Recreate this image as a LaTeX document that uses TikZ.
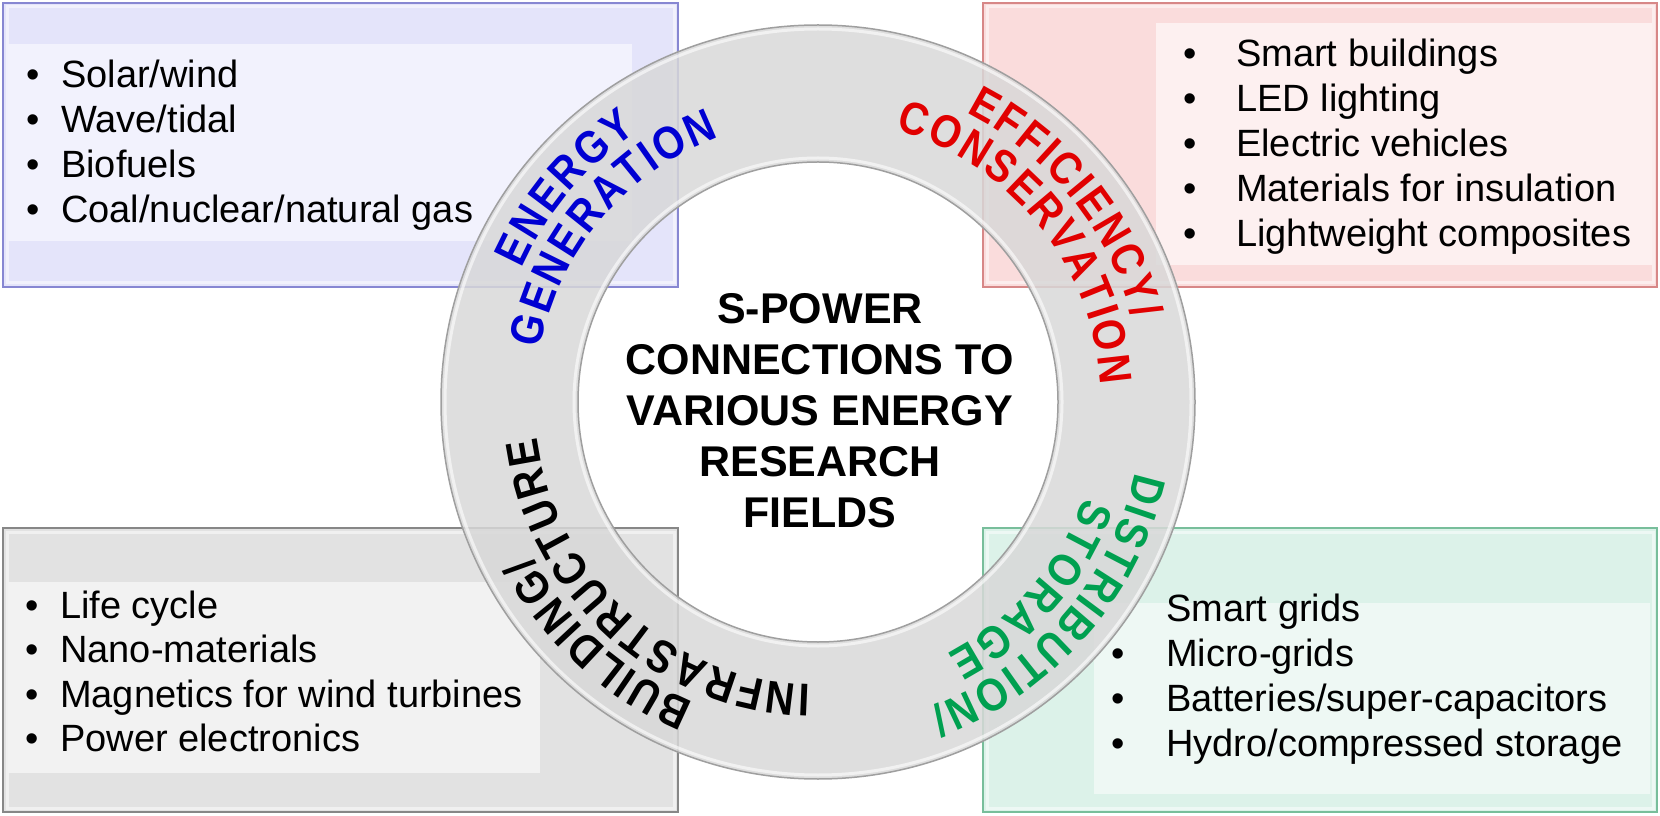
\documentclass[tikz,border=0pt]{standalone}
\usepackage{fontspec}
\setmainfont{Liberation Sans}
\newfontfamily\ringfont[FakeStretch=0.87]{Liberation Sans Bold}
\usetikzlibrary{decorations.text}
\definecolor{genblue}{RGB}{0,0,210}
\definecolor{effred}{RGB}{225,0,0}
\definecolor{distgreen}{RGB}{0,160,80}
\definecolor{genfill}{RGB}{228,228,250}
\definecolor{genpanel}{RGB}{242,242,253}
\definecolor{genedge}{RGB}{135,135,210}
\definecolor{efffill}{RGB}{250,220,220}
\definecolor{effpanel}{RGB}{253,240,240}
\definecolor{effedge}{RGB}{215,135,135}
\definecolor{bldfill}{RGB}{226,226,226}
\definecolor{bldpanel}{RGB}{242,242,242}
\definecolor{bldedge}{RGB}{135,135,135}
\definecolor{distfill}{RGB}{220,242,233}
\definecolor{distpanel}{RGB}{238,248,244}
\definecolor{distedge}{RGB}{120,190,155}
\definecolor{ringgray}{RGB}{216,216,216}
\tikzset{
	box/.style = {line width=2.5pt},
	bevel/.style = {draw=white, line width=3pt, opacity=0.5},
	listitem/.style = {anchor=base west, inner sep=0pt, font=\fontsize{38}{45}\selectfont},
	dot/.style = {anchor=base, inner sep=0pt, font=\fontsize{38}{45}\selectfont},
	titletext/.style = {align=center, inner sep=0pt, font=\fontsize{43}{51}\selectfont\bfseries}
}
% curved label on the ring: angle, radius, colour, text
\newcommand{\ringlabel}[4]{
	\path[decorate, decoration={text along path, text align=center,
		text={|\fontsize{46}{46}\ringfont\color{#3}\kern2.5pt|#4}}]
		(#1+80:#2pt) arc[start angle=#1+80, end angle=#1-80, radius=#2pt];
}

\begin{document}
\begin{tikzpicture}[x=1pt, y=1pt]
	\useasboundingbox (0,0) rectangle (1660,815);
	% the four boxes
	\draw[box, draw=genedge, fill=genfill] (3,528) rectangle (678,812);
	\draw[bevel] (7,532) rectangle (674,808);
	\fill[genpanel] (8,574) rectangle (632,771);
	\draw[box, draw=effedge, fill=efffill] (983,528) rectangle (1657,812);
	\draw[bevel] (987,532) rectangle (1653,808);
	\fill[effpanel] (1156,550) rectangle (1652,792);
	\draw[box, draw=bldedge, fill=bldfill] (3,3) rectangle (678,287);
	\draw[bevel] (7,7) rectangle (674,283);
	\fill[bldpanel] (8,42) rectangle (540,233);
	\draw[box, draw=distedge, fill=distfill] (983,3) rectangle (1657,287);
	\draw[bevel] (987,7) rectangle (1653,283);
	\fill[distpanel] (1094,21) rectangle (1650,212);
	% lists
	\foreach \txt [count=\i] in {Solar/wind, Wave/tidal, Biofuels, Coal/nuclear/natural gas} {
		\node[dot] (gendot\i) at (33,772-45*\i) {\textbullet};
		\node[listitem] (gen\i) at (61,772-45*\i) {\txt};
	}
	\foreach \txt [count=\i] in {Smart buildings, LED lighting, Electric vehicles, Materials for insulation, Lightweight composites} {
		\node[dot] (effdot\i) at (1190,793.5-45*\i) {\textbullet};
		\node[listitem] (eff\i) at (1236,793.5-45*\i) {\txt};
	}
	\foreach \txt [count=\i] in {Life cycle, Nano-materials, Magnetics for wind turbines, Power electronics} {
		\node[dot] (blddot\i) at (32,241.5-44.5*\i) {\textbullet};
		\node[listitem] (bld\i) at (60,241.5-44.5*\i) {\txt};
	}
	\node[listitem] (dist1) at (1166,194) {Smart grids};
	\foreach \txt [count=\i from 2] in {Micro-grids, Batteries/super-capacitors, Hydro/compressed storage} {
		\node[dot] (distdot\i) at (1118,239-45*\i) {\textbullet};
		\node[listitem] (dist\i) at (1166,239-45*\i) {\txt};
	}
	% ring
	\begin{scope}[shift={(818,413)}]
		\fill[ringgray, fill opacity=0.85, even odd rule] (0,0) circle[radius=377pt] (0,0) circle[radius=240pt];
		\draw[white, line width=3pt, opacity=0.6] (0,0) circle[radius=373pt];
		\draw[white, line width=3pt, opacity=0.6] (0,0) circle[radius=244pt];
		\draw[gray!75, line width=1.5pt] (0,0) circle[radius=377pt];
		\draw[gray!75, line width=1.5pt] (0,0) circle[radius=240pt];
		\ringlabel{140}{325}{genblue}{ENERGY}
		\ringlabel{140}{283}{genblue}{GENERATION}
		\ringlabel{39}{325}{effred}{EFFICIENCY/}
		\ringlabel{39}{283}{effred}{CONSERVATION}
		\ringlabel{-41}{325}{distgreen}{DISTRIBUTION/}
		\ringlabel{-41}{283}{distgreen}{STORAGE}
		\ringlabel{-132}{325}{black}{BUILDING/}
		\ringlabel{-132}{283}{black}{INFRASTRUCTURE}
	\end{scope}
	\node[titletext] (title) at (820,404) {S-POWER\\CONNECTIONS TO\\VARIOUS ENERGY\\RESEARCH\\FIELDS};
\end{tikzpicture}
\end{document}
